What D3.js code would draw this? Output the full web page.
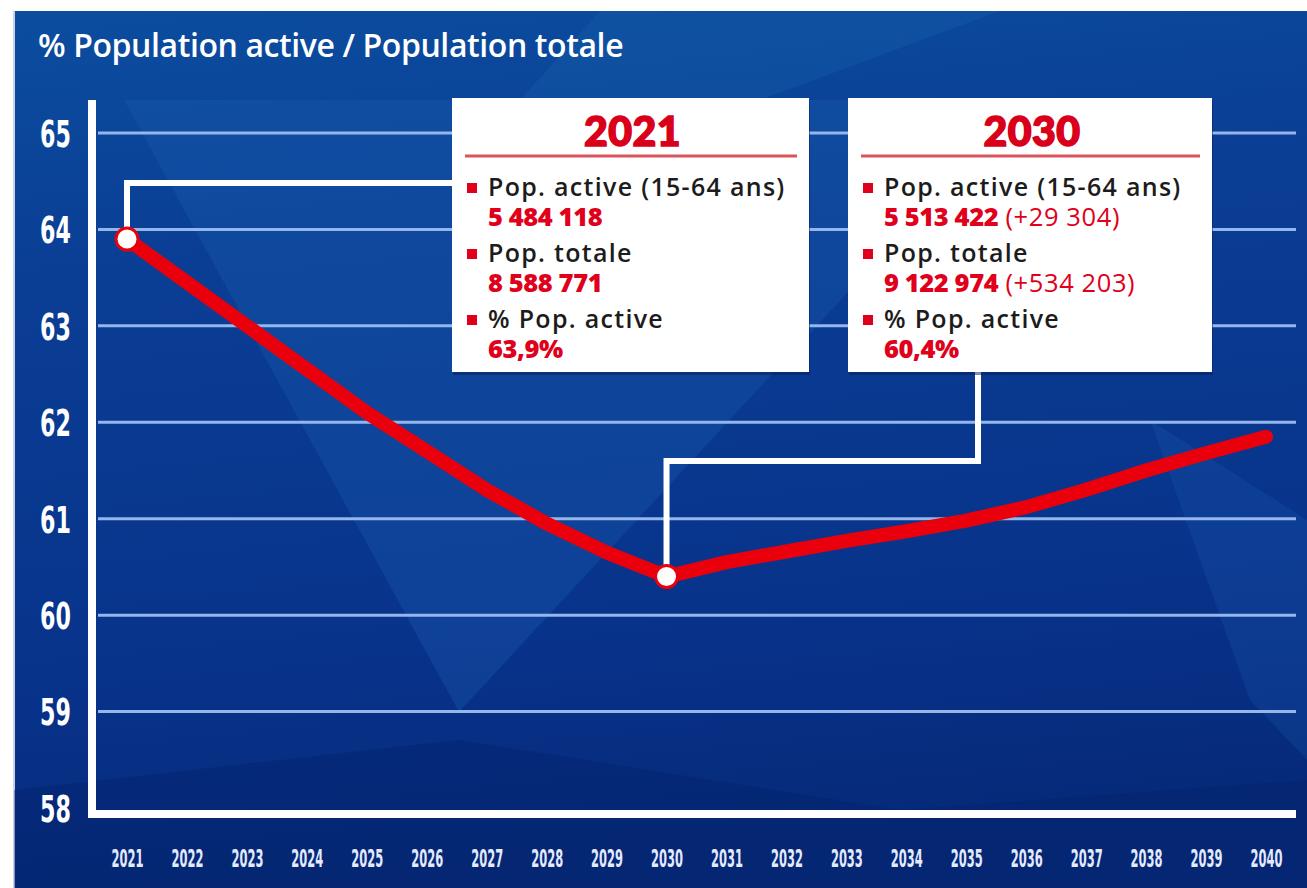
<!DOCTYPE html>
<html>
<head>
<meta charset="utf-8">
<title>% Population active / Population totale</title>
<script src="https://d3js.org/d3.v7.min.js"></script>
<style>
  body { margin: 0; background: #ffffff; }
  svg { display: block; }
</style>
</head>
<body>
<svg id="chart" width="1307" height="888"></svg>
<script>
// data
var years = [2021, 2022, 2023, 2024, 2025, 2026, 2027, 2028, 2029, 2030,
             2031, 2032, 2033, 2034, 2035, 2036, 2037, 2038, 2039, 2040];
var shareActive = [63.9, 63.45, 63.0, 62.55, 62.1, 61.7, 61.3, 60.95, 60.65, 60.4,
                   60.55, 60.66, 60.77, 60.87, 60.98, 61.12, 61.3, 61.5, 61.68, 61.85];
var yTicks = [58, 59, 60, 61, 62, 63, 64, 65];
var highlightYears = [2021, 2030];
var boxTitles = ["2021", "2030"];
var boxLabels = ["Pop. active (15-64 ans)", "Pop. totale", "% Pop. active"];
var boxValues2021 = ["5 484 118", "8 588 771", "63,9%"];
var boxValues2030 = ["5 513 422", "9 122 974", "60,4%"];
var boxDeltas2030 = ["(+29 304)", "(+534 203)", ""];

var svg = d3.select("#chart");

// background
var defs = svg.append("defs");
var grad = defs.append("linearGradient").attr("id", "bg")
  .attr("x1", 0).attr("y1", 0).attr("x2", 0.15).attr("y2", 1);
grad.append("stop").attr("offset", "0%").attr("stop-color", "#0b4d9f");
grad.append("stop").attr("offset", "30%").attr("stop-color", "#0a3e94");
grad.append("stop").attr("offset", "75%").attr("stop-color", "#08338b");
grad.append("stop").attr("offset", "100%").attr("stop-color", "#062a7a");

svg.append("rect").attr("x", 14).attr("y", 11).attr("width", 1293).attr("height", 877)
  .attr("fill", "url(#bg)");
svg.append("line").attr("x1", 14).attr("x2", 14).attr("y1", 11).attr("y2", 888)
  .attr("stroke", "#c9d3e6").attr("stroke-width", 2);

// faint facets in the background
var facets = [
  { pts: [[124, 100], [1026, 100], [459, 712]], fill: "#1a5cb0", op: 0.35 },
  { pts: [[600, 11], [1000, 11], [760, 100], [520, 100]], fill: "#1a6ab0", op: 0.25 },
  { pts: [[14, 790], [459, 740], [900, 810], [1307, 780], [1307, 888], [14, 888]], fill: "#041f68", op: 0.35 },
  { pts: [[1150, 420], [1307, 520], [1307, 760], [1250, 700]], fill: "#1a5cb0", op: 0.25 }
];
svg.append("g").selectAll("polygon").data(facets).enter().append("polygon")
  .attr("points", function(d) { return d.pts.map(function(p) { return p.join(","); }).join(" "); })
  .attr("fill", function(d) { return d.fill; })
  .attr("opacity", function(d) { return d.op; });

// scales
var x = d3.scalePoint().domain(years).range([127, 1266]);
var y = d3.scaleLinear().domain([58, 65]).range([808, 133]);

// title
svg.append("text")
  .attr("x", 38).attr("y", 57)
  .attr("fill", "#ffffff")
  .attr("font-family", "Open Sans, sans-serif")
  .attr("font-weight", 600)
  .attr("font-size", 32)
  .attr("letter-spacing", -0.4)
  .text("% Population active / Population totale");

// gridlines
svg.append("g").selectAll("line").data(yTicks.filter(function(t) { return t > 58; })).enter()
  .append("line")
  .attr("x1", 98).attr("x2", 1296)
  .attr("y1", function(d) { return y(d); }).attr("y2", function(d) { return y(d); })
  .attr("stroke", "#95b6ea").attr("stroke-width", 3);

// y axis labels (condensed)
var yAxis = svg.append("g").attr("transform", "translate(71,0)")
  .call(d3.axisLeft(y).tickValues(yTicks).tickFormat(d3.format("d")).tickSize(0).tickPadding(0));
yAxis.select(".domain").remove();
yAxis.selectAll("text")
  .attr("fill", "#ffffff")
  .attr("font-family", "DejaVu Sans, sans-serif")
  .attr("font-weight", 700)
  .attr("font-size", 37)
  .attr("dy", "0.36em")
  .attr("transform", "scale(0.6,1)");

// x axis labels (condensed)
var xAxis = svg.append("g").attr("transform", "translate(0,867)")
  .call(d3.axisBottom(x).tickSize(0).tickPadding(0));
xAxis.select(".domain").remove();
xAxis.selectAll("text")
  .attr("fill", "#e3e9ff")
  .attr("font-family", "DejaVu Sans, sans-serif")
  .attr("font-weight", 700)
  .attr("font-size", 25)
  .attr("dy", "0")
  .attr("transform", "scale(0.46,1)");

// axis frame
svg.append("line").attr("x1", 92).attr("x2", 92).attr("y1", 100).attr("y2", y(58) + 10)
  .attr("stroke", "#ffffff").attr("stroke-width", 8);
svg.append("line").attr("x1", 88).attr("x2", 1296).attr("y1", y(58) + 6).attr("y2", y(58) + 6)
  .attr("stroke", "#ffffff").attr("stroke-width", 8);

// connectors from highlight points to boxes
var boxes = [
  { x: 452, y: 98, w: 357, h: 274, title: boxTitles[0], values: boxValues2021, deltas: ["", "", ""] },
  { x: 848, y: 98, w: 364, h: 274, title: boxTitles[1], values: boxValues2030, deltas: boxDeltas2030 }
];
var p0 = [x(highlightYears[0]), y(shareActive[years.indexOf(highlightYears[0])])];
var p1 = [x(highlightYears[1]), y(shareActive[years.indexOf(highlightYears[1])])];
var conn = svg.append("g").attr("fill", "none").attr("stroke", "#ffffff").attr("stroke-width", 6);
conn.append("path").attr("d", d3.line()([p0, [p0[0], 183], [boxes[0].x, 183]]));
conn.append("path").attr("d", d3.line()([p1, [p1[0], 461], [978, 461], [978, boxes[1].y + boxes[1].h]]));

// the line
svg.append("path")
  .datum(years.map(function(yr, i) { return [yr, shareActive[i]]; }))
  .attr("fill", "none")
  .attr("stroke", "#ea000c")
  .attr("stroke-width", 14)
  .attr("stroke-linejoin", "round")
  .attr("stroke-linecap", "round")
  .attr("d", d3.line().x(function(d) { return x(d[0]); }).y(function(d) { return y(d[1]); }));

// highlight points
svg.append("g").selectAll("circle").data(highlightYears).enter().append("circle")
  .attr("cx", function(d) { return x(d); })
  .attr("cy", function(d) { return y(shareActive[years.indexOf(d)]); })
  .attr("r", 11)
  .attr("fill", "#ffffff")
  .attr("stroke", "#ea000c")
  .attr("stroke-width", 3);

// annotation boxes
boxes.forEach(function(b) {
  var g = svg.append("g").attr("transform", "translate(" + b.x + "," + b.y + ")");
  g.append("rect").attr("x", 1).attr("y", 3).attr("width", b.w).attr("height", b.h)
    .attr("fill", "#051e5a").attr("opacity", 0.5);
  g.append("rect").attr("width", b.w).attr("height", b.h).attr("fill", "#ffffff");
  g.append("text")
    .attr("x", b.w / 2 + 2).attr("y", 48)
    .attr("text-anchor", "middle")
    .attr("fill", "#d9001b")
    .attr("stroke", "#d9001b")
    .attr("stroke-width", 1.6)
    .attr("font-family", "Lato, sans-serif")
    .attr("font-weight", 900)
    .attr("font-size", 41)
    .attr("letter-spacing", 0.5)
    .text(b.title);
  g.append("line").attr("x1", 13).attr("x2", b.w - 12).attr("y1", 58).attr("y2", 58)
    .attr("stroke", "#d9545b").attr("stroke-width", 3);
  boxLabels.forEach(function(lab, i) {
    var top = 98 + i * 66;
    g.append("rect").attr("x", 15).attr("y", top - 13).attr("width", 10).attr("height", 10)
      .attr("fill", "#e0001b");
    g.append("text")
      .attr("x", 36).attr("y", top)
      .attr("fill", "#1c1c1c")
      .attr("font-family", "Open Sans, sans-serif")
      .attr("font-weight", 600)
      .attr("font-size", 25)
      .attr("letter-spacing", 1.3)
      .text(lab);
    var t = g.append("text")
      .attr("x", 36).attr("y", top + 30)
      .attr("fill", "#e0001b")
      .attr("font-family", "Open Sans, sans-serif")
      .attr("font-size", 25.5);
    t.append("tspan").attr("font-weight", 800).attr("letter-spacing", -0.4).text(b.values[i]);
    if (b.deltas[i]) {
      t.append("tspan").attr("font-weight", 500).attr("letter-spacing", 0.6).text(" " + b.deltas[i]);
    }
  });
});
</script>
</body>
</html>
